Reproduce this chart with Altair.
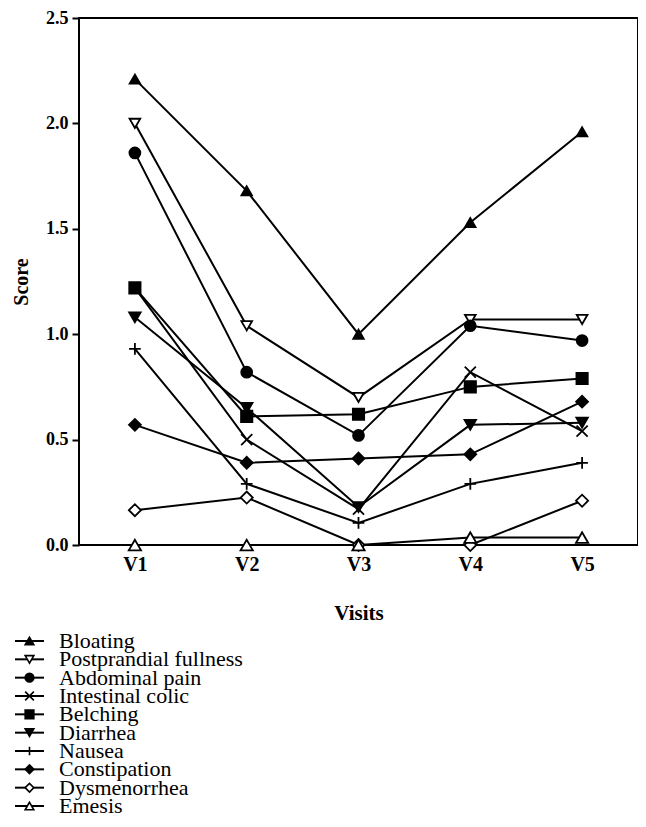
import altair as alt
import pandas as pd

visits = ["V1", "V2", "V3", "V4", "V5"]
series = ["Bloating", "Postprandial fullness", "Abdominal pain", "Intestinal colic",
          "Belching", "Diarrhea", "Nausea", "Constipation", "Dysmenorrhea", "Emesis"]

bloating = [2.21, 1.68, 1.00, 1.53, 1.96]
postprandial = [2.00, 1.04, 0.70, 1.07, 1.07]
abdominal = [1.86, 0.82, 0.52, 1.04, 0.97]
colic = [1.22, 0.50, 0.17, 0.82, 0.54]
belching = [1.22, 0.61, 0.62, 0.75, 0.79]
diarrhea = [1.08, 0.65, 0.18, 0.57, 0.58]
nausea = [0.93, 0.29, 0.105, 0.29, 0.39]
constipation = [0.57, 0.39, 0.41, 0.43, 0.68]
dysmenorrhea = [0.165, 0.225, 0.0, 0.0, 0.21]
emesis = [0.0, 0.0, 0.0, 0.035, 0.035]

values = [bloating, postprandial, abdominal, colic, belching,
          diarrhea, nausea, constipation, dysmenorrhea, emesis]

X_PATH = "M-1,-1L1,1M-1,1L1,-1"
PLUS_PATH = "M-1,0L1,0M0,-1L0,1"
shapes = ["triangle-up", "triangle-down", "circle", X_PATH, "square",
          "triangle-down", PLUS_PATH, "diamond", "diamond", "triangle-up"]
fills = ["black", "white", "black", "black", "black",
         "black", "black", "black", "white", "white"]
sizes = [110, 150, 90, 90, 170, 100, 110, 100, 110, 110]

rows = []
for s, vals in zip(series, values):
    for v, y in zip(visits, vals):
        rows.append({"series": s, "visit": v, "score": y})
df = pd.DataFrame(rows)

FONT = "Liberation Serif"

shape_scale = alt.Scale(domain=series, range=shapes)
fill_scale = alt.Scale(domain=series, range=fills)
size_scale = alt.Scale(domain=series, range=sizes)

x_enc = alt.X("visit:N", sort=visits, scale=alt.Scale(type="point", padding=0.5),
              axis=alt.Axis(title="Visits", labelAngle=0, ticks=False, domain=False,
                            labelFont=FONT, labelFontSize=20, labelFontWeight="bold",
                            labelColor="black", labelPadding=9,
                            titleFont=FONT, titleFontSize=21, titleFontWeight="bold",
                            titleColor="black", titlePadding=28))
y_enc = alt.Y("score:Q", scale=alt.Scale(domain=[0, 2.5], nice=False),
              axis=alt.Axis(title="Score", values=[0, 0.5, 1.0, 1.5, 2.0, 2.5], format=".1f",
                            grid=False, domain=False, tickColor="black", tickWidth=2, tickSize=7,
                            labelFont=FONT, labelFontSize=18, labelFontWeight="bold",
                            labelColor="black", labelPadding=4,
                            titleFont=FONT, titleFontSize=20, titleFontWeight="bold",
                            titleColor="black", titlePadding=14))

base = alt.Chart(df).encode(x=x_enc, y=y_enc)
lines = base.mark_line(color="black", strokeWidth=2).encode(detail="series:N")
points = base.mark_point(stroke="black", strokeWidth=1.8, opacity=1, fillOpacity=1,
                         clip=False).encode(
    shape=alt.Shape("series:N", scale=shape_scale, legend=None),
    fill=alt.Fill("series:N", scale=fill_scale, legend=None),
    size=alt.Size("series:N", scale=size_scale, legend=None),
)
main = alt.layer(lines, points)

# hand-made legend below the plot (line + marker + label per series)
leg_df = pd.DataFrame({"series": series})
ly = alt.Y("series:N", sort=series, axis=None,
           scale=alt.Scale(type="point", domain=series, range=[623, 788], padding=0))
leg_rule = alt.Chart(leg_df).mark_rule(color="black", strokeWidth=2).encode(
    x=alt.value(-64), x2=alt.value(-35), y=ly)
leg_pts = alt.Chart(leg_df).mark_point(stroke="black", strokeWidth=1.6, opacity=1,
                                       fillOpacity=1).encode(
    x=alt.value(-49.5), y=ly,
    shape=alt.Shape("series:N", scale=shape_scale, legend=None),
    fill=alt.Fill("series:N", scale=fill_scale, legend=None),
    size=alt.value(75),
)
leg_txt = alt.Chart(leg_df).mark_text(align="left", baseline="middle", font=FONT,
                                      fontSize=22, color="black").encode(
    x=alt.value(-20), y=ly, text="series:N")
legend = alt.layer(leg_rule, leg_pts, leg_txt)

chart = alt.layer(main, legend).resolve_scale(
    y="independent"
).properties(
    width=559, height=527,
    autosize=alt.AutoSizeParams(type="none"),
    padding={"left": 71, "top": 10, "right": 0, "bottom": 274},
).configure_view(stroke="black", strokeWidth=2)

chart.save("out.html", embed_options={"renderer": "svg", "actions": False})
